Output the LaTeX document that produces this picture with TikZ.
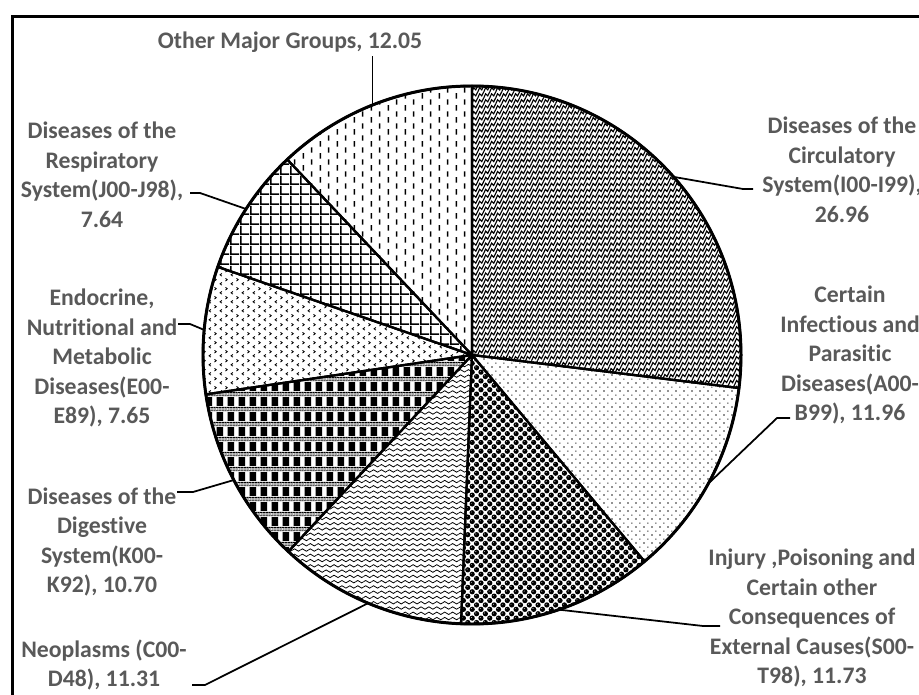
\documentclass[tikz,border=0pt]{standalone}
\usepackage{fontspec}
\setmainfont{Carlito}[RawFeature={-liga;-dlig;-clig}]
\usepackage{tikz}
\usetikzlibrary{patterns}

\definecolor{labelgray}{RGB}{89,89,89}

% fill patterns of the slices
\pgfdeclarepatternformonly{weave}{\pgfqpoint{-0.5pt}{-0.5pt}}{\pgfqpoint{3.9pt}{3.9pt}}{\pgfqpoint{3.4pt}{3.4pt}}{%
  \pgfsetlinewidth{0.65pt}
  \pgfpathmoveto{\pgfqpoint{0pt}{0pt}}
  \pgfpathlineto{\pgfqpoint{1pt}{2.2pt}}
  \pgfpathlineto{\pgfqpoint{2.2pt}{1pt}}
  \pgfpathlineto{\pgfqpoint{3.4pt}{3.4pt}}
  \pgfusepath{stroke}}
\pgfdeclarepatternformonly{finedots}{\pgfpointorigin}{\pgfqpoint{4.5pt}{4.5pt}}{\pgfqpoint{4.5pt}{4.5pt}}{%
  \pgfpathrectangle{\pgfqpoint{0.8pt}{0.8pt}}{\pgfqpoint{0.75pt}{0.75pt}}
  \pgfpathrectangle{\pgfqpoint{3.05pt}{3.05pt}}{\pgfqpoint{0.65pt}{0.65pt}}
  \pgfusepath{fill}}
\pgfdeclarepatternformonly{spheres}{\pgfqpoint{-0.5pt}{-0.5pt}}{\pgfqpoint{5.5pt}{5.5pt}}{\pgfqpoint{5pt}{5pt}}{%
  \pgfseteorule
  \pgfpathcircle{\pgfqpoint{1.25pt}{1.25pt}}{1.5pt}
  \pgfpathcircle{\pgfqpoint{0.85pt}{1.65pt}}{0.4pt}
  \pgfpathcircle{\pgfqpoint{3.75pt}{3.75pt}}{1.5pt}
  \pgfpathcircle{\pgfqpoint{3.35pt}{4.15pt}}{0.4pt}
  \pgfusepath{fill}}
\pgfdeclarepatternformonly{waves}{\pgfqpoint{0pt}{-0.5pt}}{\pgfqpoint{4.5pt}{3.5pt}}{\pgfqpoint{4.5pt}{3pt}}{%
  \pgfsetlinewidth{0.45pt}
  \pgfpathmoveto{\pgfqpoint{0pt}{1.5pt}}
  \pgfpathcurveto{\pgfqpoint{0.75pt}{2.4pt}}{\pgfqpoint{1.5pt}{2.4pt}}{\pgfqpoint{2.25pt}{1.5pt}}
  \pgfpathcurveto{\pgfqpoint{3pt}{0.6pt}}{\pgfqpoint{3.75pt}{0.6pt}}{\pgfqpoint{4.5pt}{1.5pt}}
  \pgfusepath{stroke}}
\pgfdeclarepatternformonly{blocks}{\pgfpointorigin}{\pgfqpoint{6.5pt}{8.8pt}}{\pgfqpoint{6.5pt}{8.8pt}}{%
  \pgfpathrectangle{\pgfqpoint{0.4pt}{0pt}}{\pgfqpoint{3.8pt}{5.3pt}}
  \foreach \i in {0,...,9}{
    \pgfpathrectangle{\pgfpoint{0.65pt*\i+0.05pt}{5.8pt}}{\pgfqpoint{0.45pt}{0.45pt}}
    \pgfpathrectangle{\pgfpoint{0.65pt*\i+0.37pt}{6.8pt}}{\pgfqpoint{0.45pt}{0.45pt}}
    \pgfpathrectangle{\pgfpoint{0.65pt*\i+0.05pt}{7.8pt}}{\pgfqpoint{0.45pt}{0.45pt}}}
  \pgfusepath{fill}}
\pgfdeclarepatternformonly{chevrons}{\pgfpointorigin}{\pgfqpoint{6.2pt}{4.9pt}}{\pgfqpoint{6.2pt}{4.9pt}}{%
  \pgfsetlinewidth{0.5pt}
  \pgfpathmoveto{\pgfqpoint{2.2pt}{0.5pt}}
  \pgfpathlineto{\pgfqpoint{1.2pt}{1.3pt}}
  \pgfpathlineto{\pgfqpoint{2.2pt}{2.1pt}}
  \pgfpathmoveto{\pgfqpoint{4.3pt}{2.95pt}}
  \pgfpathlineto{\pgfqpoint{5.3pt}{3.75pt}}
  \pgfpathlineto{\pgfqpoint{4.3pt}{4.55pt}}
  \pgfusepath{stroke}}
\pgfdeclarepatternformonly{biggrid}{\pgfpointorigin}{\pgfqpoint{5.7pt}{5.7pt}}{\pgfqpoint{5.7pt}{5.7pt}}{%
  \pgfpathrectangle{\pgfpointorigin}{\pgfqpoint{1pt}{5.7pt}}
  \pgfpathrectangle{\pgfpointorigin}{\pgfqpoint{5.7pt}{1pt}}
  \pgfusepath{fill}}
\pgfdeclarepatternformonly{vdashes}{\pgfpointorigin}{\pgfqpoint{9.5pt}{7pt}}{\pgfqpoint{9.5pt}{7pt}}{%
  \pgfpathrectangle{\pgfqpoint{1.5pt}{0.3pt}}{\pgfqpoint{0.9pt}{3.2pt}}
  \pgfpathrectangle{\pgfqpoint{6.25pt}{3.8pt}}{\pgfqpoint{0.9pt}{3.2pt}}
  \pgfusepath{fill}}

\begin{document}
\begin{tikzpicture}[x=0.02cm,y=0.02cm,
  slice/.style={draw=black,line width=1.3pt},
  leader/.style={draw=black,line width=1pt},
  lbl/.style={text=labelgray,font=\bfseries\fontsize{13.5}{16.8}\selectfont,align=center,inner sep=2pt}]

\useasboundingbox (0,0) rectangle (919,-695);
% chart frame
\draw[line width=1.7pt] (12.5,-695) -- (12.5,-16.5) -- (919,-16.5);

\coordinate (c) at (472,-355);
% slices, clockwise from the top
\foreach \a/\b/\p in {90/-7.06/weave,-7.06/-50.11/finedots,-50.11/-92.34/spheres,-92.34/-133.06/waves,
    -133.06/-171.58/blocks,-171.58/-199.12/chevrons,-199.12/-226.62/biggrid,-226.62/-270/vdashes}
  \filldraw[slice,pattern=\p] (c) -- ++(\a:269) arc[start angle=\a,end angle=\b,radius=269] -- cycle;
\draw[line width=1.7pt] (c) circle[radius=269];

% data labels
\node[lbl] (lother) at (290,-42) {Other Major Groups, 12.05};
\node[lbl] (lcirc) at (842,-170) {Diseases of the\\Circulatory\\System(I00-I99),\\26.96};
\node[lbl] (linf) at (850,-355) {Certain\\Infectious and\\Parasitic\\Diseases(A00-\\B99), 11.96};
\node[lbl] (linj) at (812,-618) {Injury ,Poisoning and\\Certain other\\Consequences of\\External Causes(S00-\\T98), 11.73};
\node[lbl] (lneo) at (104,-665) {Neoplasms (C00-\\D48), 11.31};
\node[lbl] (ldig) at (102,-542) {Diseases of the\\Digestive\\System(K00-\\K92), 10.70};
\node[lbl] (lendo) at (102,-358) {Endocrine,\\Nutritional and\\Metabolic\\Diseases(E00-\\E89), 7.65};
\node[lbl] (lresp) at (102,-175) {Diseases of the\\Respiratory\\System(J00-J98),\\7.64};

% leader lines, from the middle of each slice's rim
\foreach \n/\t in {oth/-248.31,circ/41.47,inf/-28.58,inj/-71.2,neo/-112.7,dig/-152.3,endo/-185.35,resp/-212.87}
  \path (c) ++(\t:269) coordinate (e\n);
\draw[leader] (eoth) -- (eoth |- lother.south);
\foreach \n/\bx/\by/\tx in {circ/743/-189/753,inf/777/-418/790,inj/703/-626/720,neo/205/-685/192,
    dig/193/-492/177,endo/190/-324/178,resp/200/-193/190}{
  \coordinate (t\n) at (\tx,\by);
  \draw[leader] (e\n) -- (\bx,\by) -- (t\n);
}
\end{tikzpicture}
\end{document}
